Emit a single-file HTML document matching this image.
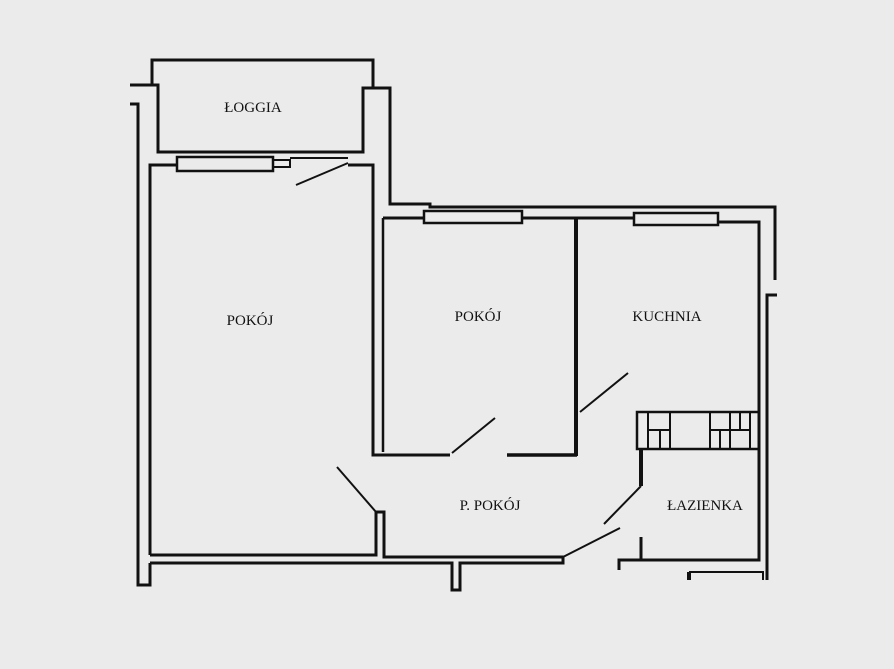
<!DOCTYPE html>
<html><head><meta charset="utf-8"><style>
html,body{margin:0;padding:0;background:#ebebeb;}
svg{display:block;}
text{font-family:"Liberation Serif",serif;font-size:15px;fill:#111;}
</style></head><body>
<svg width="894" height="669" viewBox="0 0 894 669" xmlns="http://www.w3.org/2000/svg">
<rect width="894" height="669" fill="#ebebeb"/>
<g fill="none" stroke="#111" stroke-width="3" stroke-linejoin="miter">
<!-- loggia -->
<polyline points="152,85 152,60 373,60 373,88"/>
<polyline points="130,85 158,85 158,152 363,152 363,88 373,88"/>
<polyline points="373,88 390,88 390,204 430,204 430,207 775,207 775,280"/>
<polyline points="130,104 138,104 138,585 150,585 150,563"/>
<polyline points="150,555 150,165 177,165"/>
<rect x="177" y="157" width="96" height="14" stroke-width="2.5"/>
<polyline points="273,160 290,160 290,167 273,167" stroke-width="2"/>
<line x1="290" y1="158" x2="348" y2="158" stroke-width="2"/>
<line x1="296" y1="185" x2="348" y2="163" stroke-width="2"/>
<polyline points="348,165 373,165 373,455 450,455"/>
<line x1="383" y1="218" x2="383" y2="452" stroke-width="2.5"/>
<line x1="452" y1="453" x2="495" y2="418" stroke-width="2"/>
<line x1="507" y1="455" x2="577" y2="455" stroke-width="3.5"/>
<line x1="576" y1="218" x2="576" y2="456" stroke-width="4"/>
<polyline points="383,218 424,218"/>
<rect x="424" y="211" width="98" height="12" stroke-width="2.5"/>
<line x1="522" y1="218" x2="634" y2="218"/>
<rect x="634" y="213" width="84" height="12" stroke-width="2.5"/>
<polyline points="718,222 759,222 759,560 619,560 619,570"/>
<polyline points="777,295 767,295 767,580"/>
<line x1="580" y1="412" x2="628" y2="373" stroke-width="2"/>
<!-- counter -->
<rect x="637" y="412" width="122" height="37" stroke-width="2.5"/>
<line x1="648" y1="412" x2="648" y2="449" stroke-width="2"/>
<line x1="670" y1="412" x2="670" y2="449" stroke-width="2"/>
<line x1="648" y1="430" x2="670" y2="430" stroke-width="2"/>
<line x1="660" y1="430" x2="660" y2="449" stroke-width="2"/>
<line x1="710" y1="412" x2="710" y2="449" stroke-width="2"/>
<line x1="730" y1="412" x2="730" y2="449" stroke-width="2"/>
<line x1="710" y1="430" x2="750" y2="430" stroke-width="2"/>
<line x1="740" y1="412" x2="740" y2="430" stroke-width="2"/>
<line x1="720" y1="430" x2="720" y2="449" stroke-width="2"/>
<line x1="750" y1="412" x2="750" y2="449" stroke-width="2"/>
<line x1="641" y1="449" x2="641" y2="486" stroke-width="4"/>
<line x1="641" y1="486" x2="604" y2="524" stroke-width="2"/>
<line x1="620" y1="528" x2="563" y2="557" stroke-width="2"/>
<line x1="641" y1="537" x2="641" y2="560" stroke-width="3"/>
<line x1="688" y1="572" x2="688" y2="580" stroke-width="2"/>
<polyline points="690,580 690,572 763,572 763,580" stroke-width="2"/>
<!-- bottom -->
<polyline points="150,555 376,555 376,512 384,512 384,557 563,557 563,563 460,563 460,590 452,590 452,563 150,563"/>
<line x1="337" y1="467" x2="376" y2="512" stroke-width="2"/>
</g>
<text x="253" y="112" text-anchor="middle">ŁOGGIA</text>
<text x="250" y="325" text-anchor="middle">POKÓJ</text>
<text x="478" y="321" text-anchor="middle">POKÓJ</text>
<text x="667" y="321" text-anchor="middle">KUCHNIA</text>
<text x="490" y="510" text-anchor="middle">P. POKÓJ</text>
<text x="705" y="510" text-anchor="middle">ŁAZIENKA</text>
</svg>
</body></html>
